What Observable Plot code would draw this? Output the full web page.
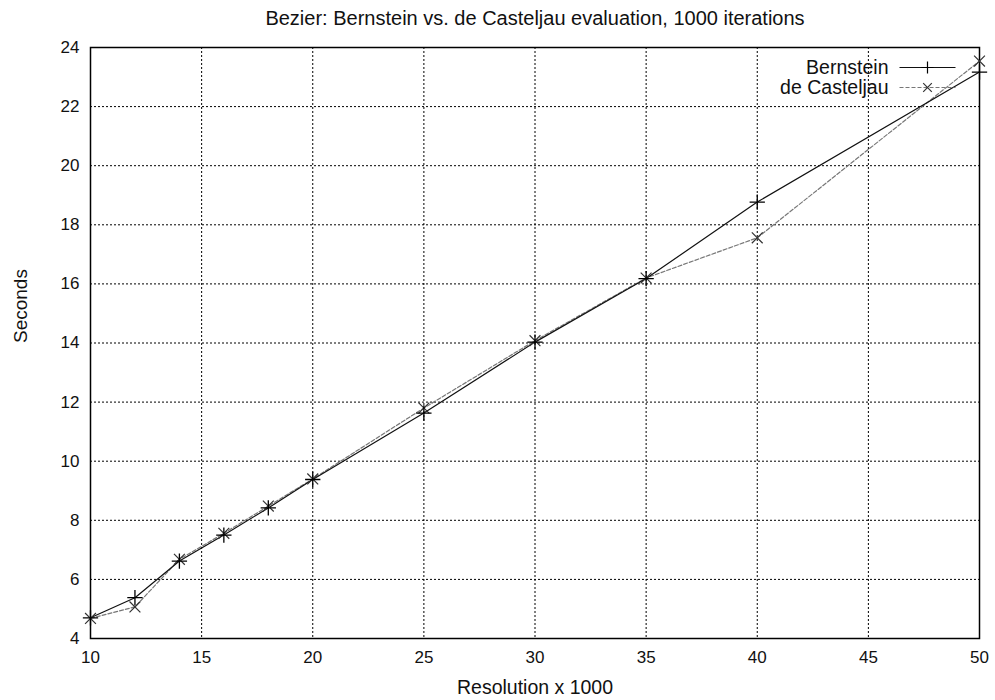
<!DOCTYPE html>
<html>
<head>
<meta charset="utf-8">
<script src="https://cdn.jsdelivr.net/npm/d3@7"></script>
<script src="https://cdn.jsdelivr.net/npm/@observablehq/plot@0.6"></script>
<style>
  body { margin: 0; background: #fff; }
  svg { font-family: "Liberation Sans", Arial, sans-serif; }
</style>
</head>
<body>
<div id="chart"></div>
<script>
const resolution = [10, 12, 14, 16, 18, 20, 25, 30, 35, 40, 50];
const bernstein = [4.7, 5.38, 6.62, 7.5, 8.42, 9.38, 11.63, 14.03, 16.18, 18.77, 23.17];
const casteljau = [4.68, 5.07, 6.68, 7.56, 8.48, 9.4, 11.8, 14.08, 16.2, 17.56, 23.54];
const xTicks = [10, 15, 20, 25, 30, 35, 40, 45, 50];
const yTicks = [4, 6, 8, 10, 12, 14, 16, 18, 20, 22, 24];
const titleText = "Bezier: Bernstein vs. de Casteljau evaluation, 1000 iterations";
const xLabel = "Resolution x 1000";
const yLabel = "Seconds";
const seriesNames = ["Bernstein", "de Casteljau"];

const rowsB = resolution.map((x, i) => ({x, y: bernstein[i]}));
const rowsC = resolution.map((x, i) => ({x, y: casteljau[i]}));

const legendLine = {
  draw(ctx) { ctx.moveTo(-28, 0); ctx.lineTo(28, 0); }
};

const chart = Plot.plot({
  width: 995,
  height: 700,
  marginLeft: 90,
  marginRight: 16,
  marginTop: 47,
  marginBottom: 62,
  style: {fontSize: "17px", fontFamily: "Liberation Sans, Arial, sans-serif", color: "#111", background: "#fff"},
  x: {domain: [10, 50], ticks: xTicks},
  y: {domain: [4, 24], ticks: yTicks},
  marks: [
    Plot.gridX(xTicks, {stroke: "#000", strokeOpacity: 1, strokeWidth: 1, strokeDasharray: "2,2"}),
    Plot.gridY(yTicks, {stroke: "#000", strokeOpacity: 1, strokeWidth: 1, strokeDasharray: "2,2"}),
    Plot.axisX(xTicks, {tickSize: 0, tickPadding: 12, fontSize: 17, label: null}),
    Plot.axisY(yTicks, {tickSize: 0, tickPadding: 11, fontSize: 17, label: null}),
    Plot.frame({stroke: "#000", strokeWidth: 1.5}),
    Plot.line(rowsC, {x: "x", y: "y", stroke: "#777", strokeWidth: 1.2, strokeDasharray: "4,2"}),
    Plot.line(rowsB, {x: "x", y: "y", stroke: "#111", strokeWidth: 1.2}),
    Plot.dot(rowsC, {x: "x", y: "y", symbol: "times", r: 5, stroke: "#333", strokeWidth: 1.2}),
    Plot.dot(rowsB, {x: "x", y: "y", symbol: "plus", r: 5, stroke: "#000", strokeWidth: 1.3}),
    // title and axis labels
    Plot.text([titleText], {frameAnchor: "top", lineAnchor: "middle", dy: -29, fontSize: 20, fill: "#111"}),
    Plot.text([xLabel], {frameAnchor: "bottom", lineAnchor: "middle", dy: 49, fontSize: 19.5, fill: "#111"}),
    Plot.text([yLabel], {frameAnchor: "left", lineAnchor: "middle", dx: -70, rotate: -90, fontSize: 19, fill: "#111"}),
    // legend
    Plot.text([seriesNames[0]], {frameAnchor: "top-right", lineAnchor: "middle", dx: -91, dy: 20, textAnchor: "end", fontSize: 19.5, fill: "#111"}),
    Plot.text([seriesNames[1]], {frameAnchor: "top-right", lineAnchor: "middle", dx: -91, dy: 40, textAnchor: "end", fontSize: 19.5, fill: "#111"}),
    Plot.dot([0], {frameAnchor: "top-right", dx: -52, dy: 20, symbol: legendLine, stroke: "#111", strokeWidth: 1.2}),
    Plot.dot([0], {frameAnchor: "top-right", dx: -52, dy: 20, symbol: "plus", r: 4, stroke: "#000", strokeWidth: 1.2}),
    Plot.dot([0], {frameAnchor: "top-right", dx: -52, dy: 40, symbol: legendLine, stroke: "#777", strokeWidth: 1.2, strokeDasharray: "4,2"}),
    Plot.dot([0], {frameAnchor: "top-right", dx: -52, dy: 40, symbol: "times", r: 4, stroke: "#333", strokeWidth: 1.2})
  ]
});
document.getElementById("chart").appendChild(chart);
</script>
</body>
</html>
